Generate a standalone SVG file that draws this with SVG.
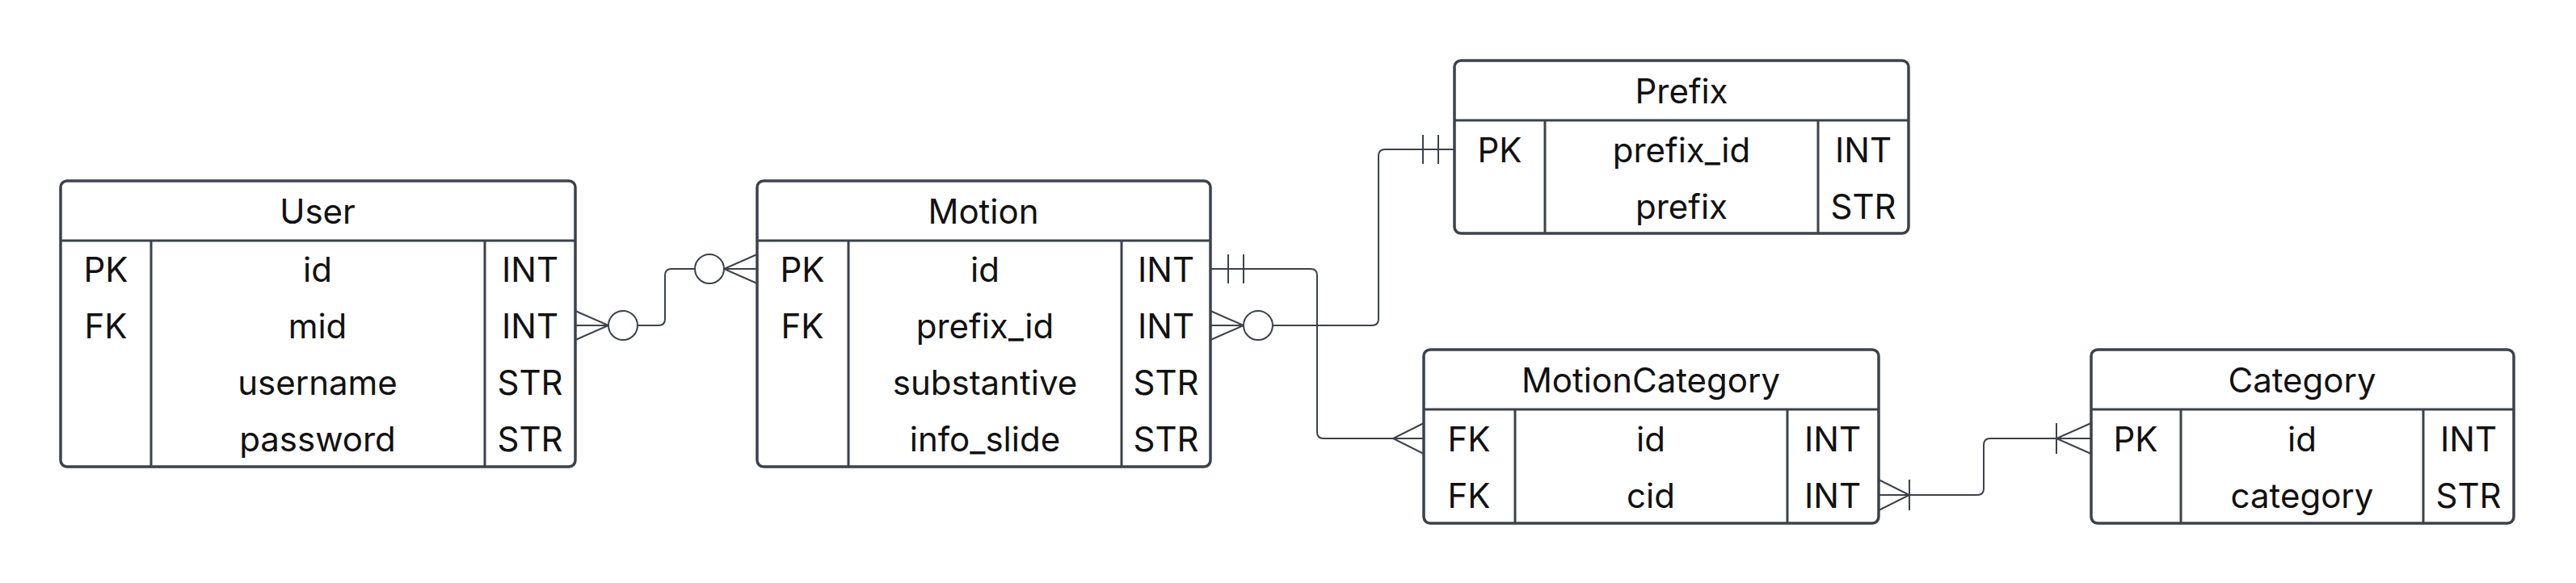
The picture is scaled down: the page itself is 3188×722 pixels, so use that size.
<svg xmlns="http://www.w3.org/2000/svg" width="3188" height="722" viewBox="0 0 3188 722">
<style>
.box{fill:#fff;stroke:#3c424a;stroke-width:3.5}
.div{stroke:#3c424a;stroke-width:3;fill:none}
.t{font-family:Inter,"Liberation Sans",sans-serif;font-size:42px;fill:#111;text-anchor:middle;dominant-baseline:central}
.c{fill:none;stroke:#3c424a;stroke-width:2}
.o{fill:#fff;stroke:#3c424a;stroke-width:2}
</style>
<rect width="3188" height="722" fill="#fff"/>
<g id="connectors">
<path class="c" d="M712,403 H815 Q823,403 823,395 V341 Q823,333 831,333 H937"/>
<path class="c" d="M712,385 L753,403 L712,421"/>
<circle class="o" cx="771" cy="403" r="18"/>
<path class="c" d="M937,315 L896,333 L937,351"/>
<circle class="o" cx="878" cy="333" r="18"/>
<path class="c" d="M1498,333 H1622 Q1630,333 1630,341 V535 Q1630,543 1638,543 H1762"/>
<path class="c" d="M1520,315 V351 M1539,315 V351"/>
<path class="c" d="M1762,524 L1724,543 L1762,562"/>
<path class="c" d="M1498,403 H1698 Q1706,403 1706,395 V193 Q1706,185 1714,185 H1800"/>
<path class="c" d="M1498,385 L1539,403 L1498,421"/>
<circle class="o" cx="1557" cy="403" r="18"/>
<path class="c" d="M1761,167 V203 M1780,167 V203"/>
<path class="c" d="M2325,613 H2447 Q2455,613 2455,605 V551 Q2455,543 2463,543 H2588"/>
<path class="c" d="M2325,594 L2363,613 L2325,632 M2363,594 V632"/>
<path class="c" d="M2588,524 L2545,543 L2588,562 M2545,524 V562"/>
</g>
<g id="User">
<rect class="box" x="75" y="224" width="637" height="354" rx="8"/>
<path class="div" d="M75,298 H712 M187,298 V578 M600,298 V578"/>
<text class="t" x="393" y="261">User</text>
<text class="t" x="131" y="333">PK</text><text class="t" x="393" y="333">id</text><text class="t" x="656" y="333">INT</text>
<text class="t" x="131" y="403">FK</text><text class="t" x="393" y="403">mid</text><text class="t" x="656" y="403">INT</text>
<text class="t" x="393" y="473">username</text><text class="t" x="656" y="473">STR</text>
<text class="t" x="393" y="543">password</text><text class="t" x="656" y="543">STR</text>
</g>
<g id="Motion">
<rect class="box" x="937" y="224" width="561" height="354" rx="8"/>
<path class="div" d="M937,298 H1498 M1050,298 V578 M1388,298 V578"/>
<text class="t" x="1217" y="261">Motion</text>
<text class="t" x="993" y="333">PK</text><text class="t" x="1219" y="333">id</text><text class="t" x="1443" y="333">INT</text>
<text class="t" x="993" y="403">FK</text><text class="t" x="1219" y="403">prefix_id</text><text class="t" x="1443" y="403">INT</text>
<text class="t" x="1219" y="473">substantive</text><text class="t" x="1443" y="473">STR</text>
<text class="t" x="1219" y="543">info_slide</text><text class="t" x="1443" y="543">STR</text>
</g>
<g id="Prefix">
<rect class="box" x="1800" y="75" width="562" height="214" rx="8"/>
<path class="div" d="M1800,149 H2362 M1912,149 V289 M2250,149 V289"/>
<text class="t" x="2081" y="112">Prefix</text>
<text class="t" x="1856" y="185">PK</text><text class="t" x="2081" y="185">prefix_id</text><text class="t" x="2306" y="185">INT</text>
<text class="t" x="2081" y="255">prefix</text><text class="t" x="2306" y="255">STR</text>
</g>
<g id="MotionCategory">
<rect class="box" x="1762" y="433" width="563" height="215" rx="8"/>
<path class="div" d="M1762,507 H2325 M1875,507 V648 M2212,507 V648"/>
<text class="t" x="2043" y="470">MotionCategory</text>
<text class="t" x="1818" y="543">FK</text><text class="t" x="2043" y="543">id</text><text class="t" x="2268" y="543">INT</text>
<text class="t" x="1818" y="613">FK</text><text class="t" x="2043" y="613">cid</text><text class="t" x="2268" y="613">INT</text>
</g>
<g id="Category">
<rect class="box" x="2588" y="433" width="523" height="215" rx="8"/>
<path class="div" d="M2588,507 H3111 M2699,507 V648 M2999,507 V648"/>
<text class="t" x="2849" y="470">Category</text>
<text class="t" x="2643" y="543">PK</text><text class="t" x="2849" y="543">id</text><text class="t" x="3055" y="543">INT</text>
<text class="t" x="2849" y="613">category</text><text class="t" x="3055" y="613">STR</text>
</g>
</svg>
